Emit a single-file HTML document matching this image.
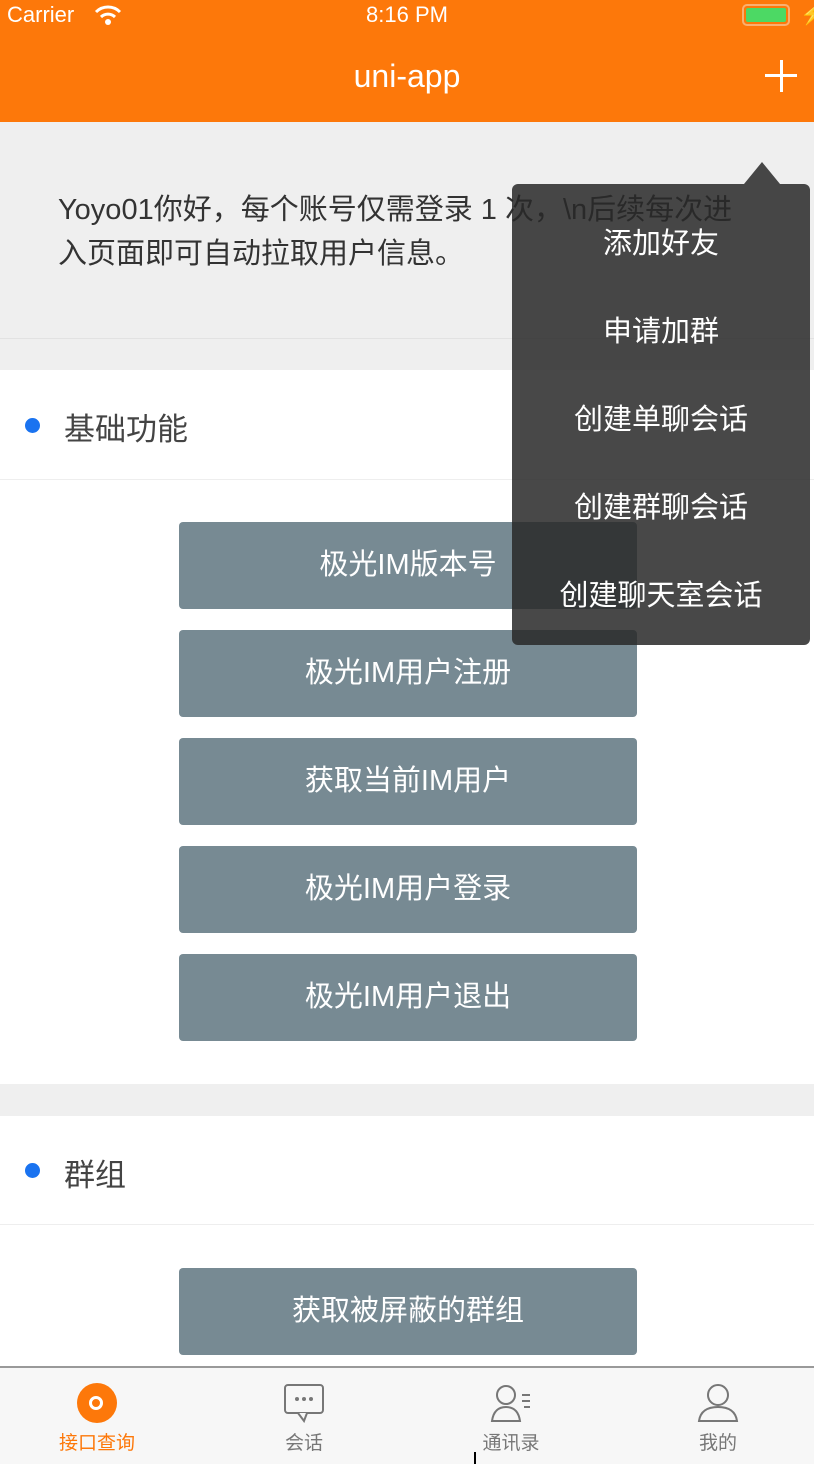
<!DOCTYPE html>
<html><head><meta charset="utf-8"><style>
*{margin:0;padding:0;box-sizing:border-box}
body{width:814px;height:1464px;position:relative;overflow:hidden;background:#fff;font-family:"Liberation Sans","Noto Sans CJK SC",sans-serif}
.a{position:absolute}
.btn{position:absolute;left:179px;width:458px;height:87px;background:#778a93;border-radius:4px;color:#fff;font-size:29px;text-align:center;line-height:87px}
.mi{position:absolute;left:512px;width:298px;text-align:center;color:#fff;font-size:29px}
.tab{position:absolute;top:1428px;width:120px;text-align:center;font-size:19px;color:#777}
</style></head><body>
<div class="a" style="left:0;top:0;width:814px;height:122px;background:#fd780a"></div>
<div class="a" style="left:7px;top:2px;color:#fff;font-size:22px">Carrier</div>
<svg class="a" style="left:94px;top:4px" width="28" height="22" viewBox="0 0 28 22"><path d="M2 8 A17 17 0 0 1 26 8" stroke="#fff" stroke-width="3" fill="none"/><path d="M7 13 A10 10 0 0 1 21 13" stroke="#fff" stroke-width="3" fill="none"/><circle cx="14" cy="18" r="3" fill="#fff"/></svg>
<div class="a" style="left:0;width:814px;top:2px;text-align:center;color:#fff;font-size:22px">8:16 PM</div>
<div class="a" style="left:742px;top:4px;width:48px;height:22px;border:2px solid #f9b070;border-radius:5px;padding:2px"><div style="width:100%;height:100%;background:#4cd964;border-radius:2px"></div></div>
<div class="a" style="left:800px;top:2px;color:#fff;font-size:20px">⚡</div>
<div class="a" style="left:0;width:814px;top:58px;text-align:center;color:#fff;font-size:32px">uni-app</div>
<div class="a" style="left:765px;top:74px;width:32px;height:3px;background:#fff"></div>
<div class="a" style="left:780px;top:60px;width:3px;height:32px;background:#fff"></div>
<div class="a" style="left:0;top:122px;width:814px;height:248px;background:#efefef"></div>
<div class="a" style="left:0;top:338px;width:814px;height:1px;background:#e2e2e2"></div>
<div class="a" style="left:58px;top:188px;width:700px;font-size:29px;line-height:44px;color:#333">Yoyo01你好，每个账号仅需登录 1 次，\n后续每次进<br>入页面即可自动拉取用户信息。</div>
<div class="a" style="left:0;top:370px;width:814px;height:110px;background:#fff;border-bottom:1px solid #eee"></div>
<div class="a" style="left:25px;top:418px;width:15px;height:15px;border-radius:50%;background:#1a73f0"></div>
<div class="a" style="left:64px;top:404px;font-size:31px;color:#444">基础功能</div>
<div class="btn" style="top:522px">极光IM版本号</div>
<div class="btn" style="top:630px">极光IM用户注册</div>
<div class="btn" style="top:738px">获取当前IM用户</div>
<div class="btn" style="top:846px">极光IM用户登录</div>
<div class="btn" style="top:954px">极光IM用户退出</div>
<div class="a" style="left:0;top:1084px;width:814px;height:32px;background:#efefef"></div>
<div class="a" style="left:0;top:1224px;width:814px;height:1px;background:#eee"></div>
<div class="a" style="left:25px;top:1163px;width:15px;height:15px;border-radius:50%;background:#1a73f0"></div>
<div class="a" style="left:64px;top:1150px;font-size:31px;color:#444">群组</div>
<div class="btn" style="top:1268px">获取被屏蔽的群组</div>
<div class="a" style="left:744px;top:162px;width:0;height:0;border-left:18px solid transparent;border-right:18px solid transparent;border-bottom:22px solid rgba(40,40,40,.85)"></div>
<div class="a" style="left:512px;top:184px;width:298px;height:461px;background:rgba(40,40,40,.85);border-radius:6px"></div>
<div class="mi" style="top:220px">添加好友</div>
<div class="mi" style="top:308px">申请加群</div>
<div class="mi" style="top:396px">创建单聊会话</div>
<div class="mi" style="top:484px">创建群聊会话</div>
<div class="mi" style="top:572px">创建聊天室会话</div>
<div class="a" style="left:0;top:1366px;width:814px;height:98px;background:#f7f7f7;border-top:2px solid #999"></div>
<div class="a" style="left:77px;top:1383px;width:40px;height:40px;border-radius:50%;background:#fd780a"></div>
<div class="a" style="left:89px;top:1396px;width:14px;height:14px;border:3px solid #fff;border-radius:50%"></div>
<div class="tab" style="left:37px;color:#fd780a">接口查询</div>
<svg class="a" style="left:283px;top:1383px" width="42" height="40"><rect x="2" y="2" width="38" height="28" rx="3" fill="none" stroke="#777" stroke-width="2"/><circle cx="14" cy="16" r="2" fill="#777"/><circle cx="21" cy="16" r="2" fill="#777"/><circle cx="28" cy="16" r="2" fill="#777"/><path d="M15 30 L21 38 L24 30" fill="#f7f7f7" stroke="#777" stroke-width="2"/></svg>
<div class="tab" style="left:244px">会话</div>
<svg class="a" style="left:490px;top:1383px" width="44" height="40"><circle cx="16" cy="12" r="9" fill="none" stroke="#777" stroke-width="2"/><path d="M2 38 Q4 24 16 24 Q28 24 30 38 Z" fill="none" stroke="#777" stroke-width="2"/><path d="M32 12h8M32 18h8M34 24h6" stroke="#777" stroke-width="2"/></svg>
<div class="tab" style="left:451px">通讯录</div>
<svg class="a" style="left:697px;top:1383px" width="42" height="40"><circle cx="21" cy="12" r="10" fill="none" stroke="#777" stroke-width="2"/><path d="M2 38 Q4 24 21 24 Q38 24 40 38 Z" fill="none" stroke="#777" stroke-width="2"/></svg>
<div class="tab" style="left:658px">我的</div>
<div class="a" style="left:474px;top:1452px;width:2px;height:12px;background:#000"></div>
</body></html>
